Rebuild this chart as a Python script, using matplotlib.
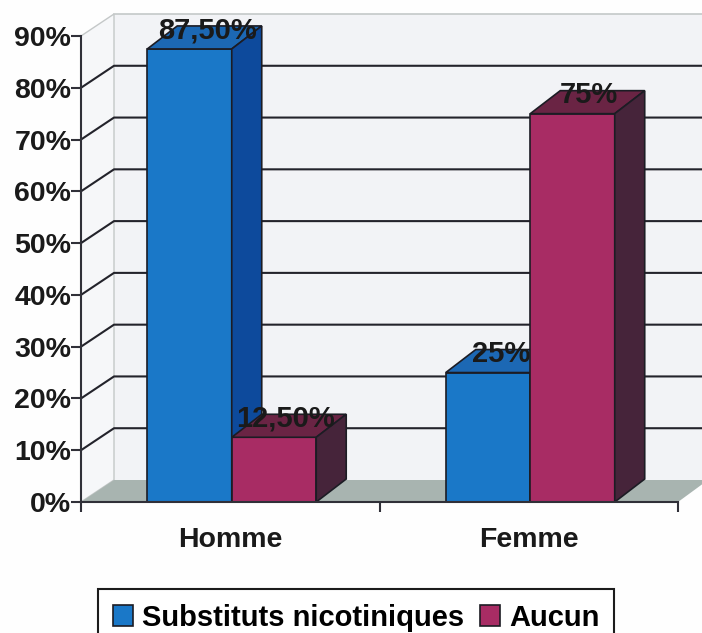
#!/usr/bin/env python3

import matplotlib
matplotlib.use("Agg")
import matplotlib.pyplot as plt
from matplotlib.patches import Patch

categories = ["Homme", "Femme"]
substituts = [87.5, 25]
aucun = [12.5, 75]
substituts_labels = ["87,50%", "25%"]
aucun_labels = ["12,50%", "75%"]
legend_labels = ["Substituts nicotiniques", "Aucun"]
y_ticks = [0, 10, 20, 30, 40, 50, 60, 70, 80, 90]

W, H = 702, 633
plt.rcParams["font.family"] = ["Liberation Sans", "DejaVu Sans"]
plt.rcParams["font.weight"] = "bold"
plt.rcParams["font.size"] = 20.5

fig = plt.figure(figsize=(W / 100, H / 100), dpi=100, facecolor="#fefefe")

#- front plane of the 3D box, pixel limits
left, right, top, bottom = 81, 678, 36, 502
ax = fig.add_axes([left / W, 1 - bottom / H, (right - left) / W, (bottom - top) / H])
ax.set_xlim(0, 2)
ax.set_ylim(0, 90)
ax.patch.set_visible(False)

px_x = 2 / (right - left)
px_y = 90 / (bottom - top)
wall_dx, wall_dy = 33 * px_x, 22 * px_y
bar_dx, bar_dy = 30 * px_x, 23 * px_y
x_max = 2 + 30 * px_x

ink = "#1c1c24"

#- walls and floor
ax.fill([wall_dx, x_max, x_max, wall_dx],
        [wall_dy, wall_dy, 90 + wall_dy, 90 + wall_dy],
        fc="#f2f3f6", ec="none", zorder=1, clip_on=False)
ax.fill([0, wall_dx, wall_dx, 0], [0, wall_dy, 90 + wall_dy, 90],
        fc="#f6f7f9", ec="#c4c8c8", lw=1, zorder=1, clip_on=False)
ax.plot([wall_dx, x_max], [90 + wall_dy, 90 + wall_dy], color="#c4c8c8", lw=1.2,
        zorder=1, clip_on=False)
ax.fill([0, wall_dx, x_max, 2], [0, wall_dy, wall_dy, 0],
        fc="#a8b4b0", ec="none", zorder=1, clip_on=False)

#- gridlines on back and side wall
for v in y_ticks[1:-1]:
    ax.plot([0, wall_dx, x_max], [v, v + wall_dy, v + wall_dy], color="#23232b", lw=1.5,
            zorder=2, clip_on=False)


def bar3d(x, w, v, front, lid, side):
    ax.bar(x, v, w, align="edge", color=front, edgecolor=ink, linewidth=1.2, zorder=3)
    ax.fill([x, x + bar_dx, x + w + bar_dx, x + w],
            [v, v + bar_dy, v + bar_dy, v],
            fc=lid, ec=ink, lw=1.2, zorder=3, clip_on=False)
    ax.fill([x + w, x + w + bar_dx, x + w + bar_dx, x + w],
            [0, bar_dy, v + bar_dy, v],
            fc=side, ec=ink, lw=1.2, zorder=3, clip_on=False)


bar_w = 0.283
for i in range(len(categories)):
    x0 = i + 0.222
    bar3d(x0, bar_w, substituts[i], "#1a78c8", "#1c68b4", "#0d4a9c")
    bar3d(x0 + bar_w, bar_w, aucun[i], "#a82c64", "#6a2444", "#46243a")

#- labels sit over the bars, nudged by hand like the original
sub_nudge = [0.06, 0.045]
auc_nudge = [0.04, 0.055]
drop = 4.5 * px_y
for i in range(len(categories)):
    x0 = i + 0.222
    ax.text(x0 + bar_w / 2 + sub_nudge[i], substituts[i] + bar_dy - drop, substituts_labels[i],
            ha="center", va="center", color="#1a1a1a", fontsize=21, zorder=5, clip_on=False)
    ax.text(x0 + 1.5 * bar_w + auc_nudge[i], aucun[i] + bar_dy - drop, aucun_labels[i],
            ha="center", va="center", color="#1a1a1a", fontsize=21, zorder=5, clip_on=False)

#- axes
ax.set_yticks(y_ticks)
ax.set_yticklabels(["%d%%" % v for v in y_ticks], color="#1a1a1a")
ax.tick_params(axis="y", length=7, width=1.5, color="#303038", pad=0)
ax.set_xticks([0, 1, 2])
ax.set_xticklabels([])
ax.tick_params(axis="x", which="major", length=7, width=1.5, color="#303038")
ax.set_xticks([0.5, 1.5], minor=True)
ax.set_xticklabels(categories, minor=True, color="#1a1a1a")
ax.tick_params(axis="x", which="minor", length=0, pad=18)
for s in ["top", "right"]:
    ax.spines[s].set_visible(False)
for s in ["left", "bottom"]:
    ax.spines[s].set_linewidth(1.5)
    ax.spines[s].set_color("#303038")
    ax.spines[s].set_zorder(4)

handles = [Patch(fc="#1a78c8", ec=ink, lw=1.2), Patch(fc="#a82c64", ec=ink, lw=1.2)]
leg = fig.legend(handles, legend_labels, ncol=2, loc="upper center", fontsize=21,
                 bbox_to_anchor=(356 / W, 1 - 589 / H), fancybox=False,
                 framealpha=1, edgecolor="#1c1c1c", handlelength=0.7, handleheight=0.7,
                 handletextpad=0.3, columnspacing=0.55, borderpad=0.5, borderaxespad=0)
leg.get_frame().set_linewidth(1.5)

fig.savefig("out.png", dpi=100, facecolor=fig.get_facecolor())
